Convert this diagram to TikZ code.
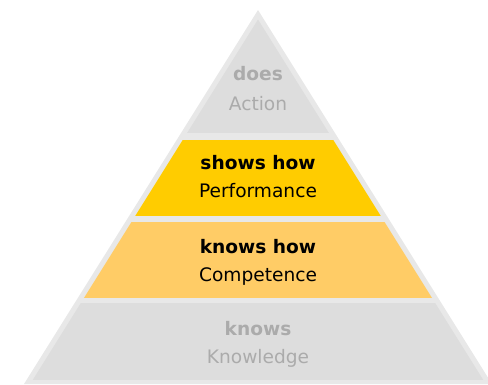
\documentclass[tikz,border=0pt]{standalone}
\usepackage{fontspec}
\setmainfont{DejaVu Sans}
\definecolor{rim}{HTML}{E8E8E8}
\definecolor{band}{HTML}{DDDDDD}
\definecolor{showsfill}{HTML}{FFCC00}
\definecolor{knowsfill}{HTML}{FFCC66}
\definecolor{dimtext}{HTML}{ABABAB}
\begin{document}
\begin{tikzpicture}[x=1bp,y=-1bp,inner sep=0pt,outer sep=0pt,
level/.style={anchor=base,font=\fontsize{18.6bp}{22bp}\selectfont},
levelhead/.style={anchor=base,font=\fontsize{18.6bp}{22bp}\selectfont\bfseries}]
\useasboundingbox (0,0) rectangle (488,384);
\clip (0,0) rectangle (488,384);
\fill[rim] (258,10) -- (24,384) -- (492,384) -- cycle;
\begin{scope}
\clip (258,19.5) -- (32.7,380) -- (483.3,380) -- cycle;
\fill[band] (0,0) rectangle (488,133);
\fill[showsfill] (0,140) rectangle (488,216);
\fill[knowsfill] (0,222) rectangle (488,298);
\fill[band] (0,303) rectangle (488,380);
\end{scope}
\node[levelhead,text=dimtext] (does) at (258,80) {does};
\node[level,text=dimtext] (action) at (258,110) {Action};
\node[levelhead] (showshow) at (258,169) {shows how};
\node[level] (performance) at (258,197) {Performance};
\node[levelhead] (knowshow) at (258,253) {knows how};
\node[level] (competence) at (258,281) {Competence};
\node[levelhead,text=dimtext] (knows) at (258,335) {knows};
\node[level,text=dimtext] (knowledge) at (258,363) {Knowledge};
\end{tikzpicture}
\end{document}
